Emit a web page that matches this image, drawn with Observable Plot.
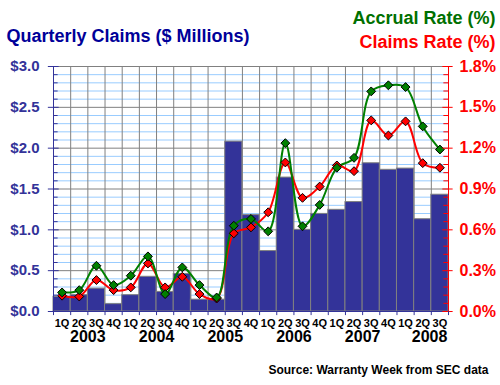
<!DOCTYPE html>
<html><head><meta charset="utf-8">
<script src="https://cdn.jsdelivr.net/npm/d3@7"></script>
<script src="https://cdn.jsdelivr.net/npm/@observablehq/plot@0.6"></script>
<style>body{margin:0;background:#fff;} svg{display:block}</style>
</head><body><div id="chart"></div>
<script>
const quarters = ["1Q","2Q","3Q","4Q","1Q","2Q","3Q","4Q","1Q","2Q","3Q","4Q","1Q","2Q","3Q","4Q","1Q","2Q","3Q","4Q","1Q","2Q","3Q"];
const claims = [0.18,0.20,0.28,0.09,0.20,0.425,0.24,0.46,0.145,0.145,2.08,1.18,0.74,1.64,1.00,1.195,1.245,1.34,1.815,1.735,1.75,1.13,1.43];
const accrualRate = [0.14,0.157,0.336,0.194,0.263,0.405,0.128,0.324,0.194,0.103,0.63,0.68,0.589,1.237,0.626,0.783,1.056,1.129,1.617,1.662,1.649,1.36,1.19];
const claimsRate = [0.116,0.11,0.231,0.157,0.177,0.353,0.177,0.255,0.128,0.095,0.574,0.618,0.729,1.095,0.835,0.918,1.073,1.031,1.404,1.293,1.397,1.09,1.056];
const years = ["2003","2004","2005","2006","2007","2008"];
const yearPos = [2, 6, 10, 14, 18, 21.9];
const leftTicks = [0, 0.5, 1, 1.5, 2, 2.5, 3];
const rightTicks = [0, 0.3, 0.6, 0.9, 1.2, 1.5, 1.8];

const k = 3 / 1.8; // percent -> $ axis units
const rows = quarters.map((q, i) => ({i, q, claims: claims[i], accrual: accrualRate[i] * k, crate: claimsRate[i] * k}));
const allTicks = d3.range(0, 31).map(d => d / 10);
const minor = allTicks.filter(d => Math.round(d * 10) % 5 !== 0);
const major = leftTicks;
const font = "Liberation Sans, Arial, sans-serif";

const chart = Plot.plot({
  width: 500, height: 385,
  marginTop: 66, marginBottom: 74, marginLeft: 53, marginRight: 52,
  style: {fontFamily: font, background: "#fff"},
  x: {domain: [0, 23], axis: null},
  y: {domain: [0, 3], axis: null},
  marks: [
    Plot.ruleY(minor, {stroke: "#99ccff"}),
    Plot.ruleY(major, {stroke: "#808080"}),
    Plot.ruleX(d3.range(1, 23), {stroke: "#808080"}),
    Plot.rectY(rows, {x1: d => d.i, x2: d => d.i + 1, y: "claims", fill: "#333399", stroke: "#808080"}),
    Plot.line(rows, {x: d => d.i + 0.5, y: "crate", stroke: "#ff0000", strokeWidth: 2, curve: "catmull-rom"}),
    Plot.line(rows, {x: d => d.i + 0.5, y: "accrual", stroke: "#008000", strokeWidth: 2, curve: "catmull-rom"}),
    Plot.dot(rows, {x: d => d.i + 0.5, y: "crate", symbol: "diamond2", r: 4, fill: "#ff0000", stroke: "#000", strokeWidth: 1}),
    Plot.dot(rows, {x: d => d.i + 0.5, y: "accrual", symbol: "diamond2", r: 4, fill: "#008000", stroke: "#000", strokeWidth: 1}),
    Plot.ruleX([0], {stroke: "#333399"}),
    Plot.ruleX([23], {stroke: "#ff0000"}),
    Plot.ruleY([0], {stroke: "#333399"}),
    Plot.ruleY(minor, {x1: 0, x2: 0.27, stroke: "#333399"}),
    Plot.ruleY(major, {x1: -0.3, x2: 0.33, stroke: "#333399"}),
    Plot.ruleY(minor, {x1: 22.73, x2: 23, stroke: "#ff0000"}),
    Plot.ruleY(major, {x1: 22.67, x2: 23.27, stroke: "#ff0000"}),
    Plot.ruleX(d3.range(0, 24), {y1: 0, y2: -0.05, stroke: "#333399"}),
    Plot.text(leftTicks, {x: 0, y: d => d, text: d => "$" + d.toFixed(1), textAnchor: "end", dx: -14, fill: "#333399", fontWeight: "bold", fontSize: 15}),
    Plot.text(rightTicks, {x: 23, y: d => d * k, text: d => d.toFixed(1) + "%", textAnchor: "start", dx: 11, fill: "#ff0000", fontWeight: "bold", fontSize: 16}),
    Plot.text(rows, {x: d => d.i + 0.5, text: "q", frameAnchor: "bottom", dy: 15, fontSize: 11, fontWeight: "bold", fill: "#000"}),
    Plot.text(years, {x: (d, i) => yearPos[i], text: d => d, frameAnchor: "bottom", dy: 30, fontSize: 16, fontWeight: "bold", fill: "#000"}),
    Plot.text(["Quarterly Claims ($ Millions)"], {text: d => d, frameAnchor: "top-left", textAnchor: "start", dx: -47, dy: -37, fontSize: 18, fontWeight: "bold", fill: "#000099"}),
    Plot.text(["Accrual Rate (%)"], {text: d => d, frameAnchor: "top-right", textAnchor: "end", dx: 47, dy: -55, fontSize: 18, fontWeight: "bold", fill: "#007000"}),
    Plot.text(["Claims Rate (%)"], {text: d => d, frameAnchor: "top-right", textAnchor: "end", dx: 47, dy: -31, fontSize: 18, fontWeight: "bold", fill: "#ff0000"}),
    Plot.text(["Source: Warranty Week from SEC data"], {text: d => d, frameAnchor: "bottom-right", textAnchor: "end", dx: 40, dy: 62, fontSize: 12, fontWeight: "bold", fill: "#000"})
  ]
});
document.getElementById("chart").appendChild(chart);
</script>
</body></html>
